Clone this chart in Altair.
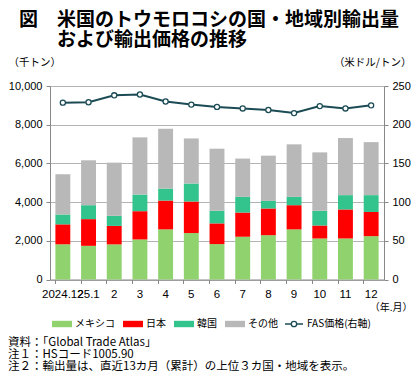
import altair as alt
import pandas as pd

months = ["2024.12", "25.1", "2", "3", "4", "5", "6", "7", "8", "9", "10", "11", "12"]
mexico = [1820, 1740, 1815, 2070, 2590, 2400, 1830, 2210, 2290, 2590, 2120, 2120, 2240]
japan = [1030, 1380, 955, 1460, 1490, 1630, 1070, 1250, 1380, 1250, 670, 1500, 1250]
korea = [510, 720, 520, 860, 620, 930, 650, 810, 390, 430, 760, 740, 870]
others = [2080, 2320, 2750, 2955, 3090, 2330, 3210, 1980, 2340, 2715, 3020, 2950, 2740]
fas = [228.5, 229, 238, 239, 230, 226, 223, 221, 219, 215, 224, 221, 225]

series_names = ["メキシコ", "日本", "韓国", "その他"]
series_colors = ["#90d26e", "#ff0000", "#33c38c", "#b8b8b8"]
fas_label = "FAS価格(右軸)"
line_color = "#1b4b54"

fig_label = "図"
title_lines = ["米国のトウモロコシの国・地域別輸出量", "および輸出価格の推移"]
note_lines = ["資料：「Global Trade Atlas」", "注１：HSコード1005.90",
              "注２：輸出量は、直近13カ月（累計）の上位３カ国・地域を表示。"]

JP = "Noto Sans CJK JP"
NUM = "Liberation Sans"

rows = []
for k, (name, vals) in enumerate(zip(series_names, [mexico, japan, korea, others])):
    for i, m in enumerate(months):
        rows.append({"month": m, "series": name, "value": vals[i], "ord": k})
bars_df = pd.DataFrame(rows)
line_df = pd.DataFrame({"month": months, "fas": fas, "label": [fas_label] * len(months)})

x_axis = alt.Axis(title="（年.月）", labelAngle=0, labelFont=NUM, labelFontSize=11.5,
                  labelColor="#000", labelPadding=5, tickSize=4, bandPosition=0,
                  tickColor="#888", domainColor="#888", titleFont=JP, titleFontSize=10,
                  titleFontWeight="normal", titleX=362, titleY=28, titleAlign="right",
                  titleBaseline="middle", titleColor="#000")
xenc = alt.X("month:N", sort=months,
             scale=alt.Scale(paddingInner=0.42, paddingOuter=0.21), axis=x_axis)

bars = alt.Chart(bars_df).mark_bar(strokeWidth=0).encode(
    x=xenc,
    y=alt.Y("value:Q", stack="zero",
            scale=alt.Scale(domain=[0, 10000], nice=False),
            axis=alt.Axis(orient="left", values=[0, 2000, 4000, 6000, 8000, 10000], format=",d",
                          title="（千トン）", titleAngle=0, titleX=-42, titleY=-24,
                          titleAlign="left", titleBaseline="middle", titleFont=JP,
                          titleFontSize=10.5, titleFontWeight="normal", titleColor="#000",
                          labelFont=NUM, labelFontSize=11, labelColor="#000",
                          labelPadding=4, tickSize=4, tickColor="#888", domainColor="#888",
                          grid=True, gridColor="#b3b3b3", gridWidth=1)),
    color=alt.Color("series:N", title=None,
                    scale=alt.Scale(domain=series_names, range=series_colors),
                    legend=alt.Legend(orient="none", legendX=2, legendY=228,
                                      direction="horizontal",
                                      symbolType="M-1,-0.32L1,-0.32L1,0.32L-1,0.32Z",
                                      symbolSize=400, symbolStrokeWidth=0,
                                      labelFont=JP, labelFontSize=10, labelColor="#000",
                                      labelOffset=3, columnPadding=8, padding=0)),
    order=alt.Order("ord:Q"),
)

line = alt.Chart(line_df).mark_line(
    strokeWidth=2,
    point=alt.OverlayMarkDef(filled=True, fill="white", stroke=line_color,
                             strokeWidth=1.3, size=26),
).encode(
    x=alt.X("month:N", sort=months),
    y=alt.Y("fas:Q", scale=alt.Scale(domain=[0, 250], nice=False),
            axis=alt.Axis(orient="right", values=[0, 50, 100, 150, 200, 250],
                          title="（米ドル/トン）", titleAngle=0, titleX=27, titleY=-24,
                          titleAlign="right", titleBaseline="middle", titleFont=JP,
                          titleFontSize=10.5, titleFontWeight="normal", titleColor="#000",
                          labelFont=NUM, labelFontSize=11, labelColor="#000",
                          labelPadding=4, tickSize=4, tickColor="#888", domainColor="#888",
                          grid=False)),
    stroke=alt.Stroke("label:N", title=None,
                      scale=alt.Scale(domain=[fas_label], range=[line_color]),
                      legend=alt.Legend(orient="none", legendX=234, legendY=228,
                                        symbolType="M-1,0L-0.3,0M0.3,0L1,0M-0.3,0A0.3,0.3 0 1,0 0.3,0A0.3,0.3 0 1,0 -0.3,0",
                                        symbolSize=324, symbolFillColor="white",
                                        symbolStrokeWidth=1.3,
                                        labelFont=JP, labelFontSize=10, labelColor="#000",
                                        labelOffset=3, padding=0)),
)

fig_mark = alt.Chart(pd.DataFrame({"t": [fig_label]})).mark_text(
    font=JP, fontSize=19, fontWeight="bold", align="left", baseline="top", color="#000"
).encode(text="t:N", x=alt.value(-31), y=alt.value(-75))

title = alt.Chart(pd.DataFrame({"t": ["\n".join(title_lines)]})).mark_text(
    lineBreak="\n", lineHeight=20, font=JP, fontSize=19, fontWeight="bold",
    align="left", baseline="top", color="#000"
).encode(text="t:N", x=alt.value(7), y=alt.value(-75))

notes = alt.Chart(pd.DataFrame({"t": ["\n".join(note_lines)]})).mark_text(
    lineBreak="\n", lineHeight=12, font=JP, fontSize=11.5,
    align="left", baseline="top", color="#000"
).encode(text="t:N", x=alt.value(-42), y=alt.value(251))

chart = alt.layer(bars, line, fig_mark, title, notes).resolve_scale(
    y="independent", color="independent", stroke="independent"
).properties(
    width=334, height=193.5,
    autosize=alt.AutoSizeParams(type="none"),
    padding={"left": 42, "top": 78, "right": 28, "bottom": 96},
).configure_view(strokeWidth=0)

chart.save("out.html", embed_options={"renderer": "svg", "actions": False})
